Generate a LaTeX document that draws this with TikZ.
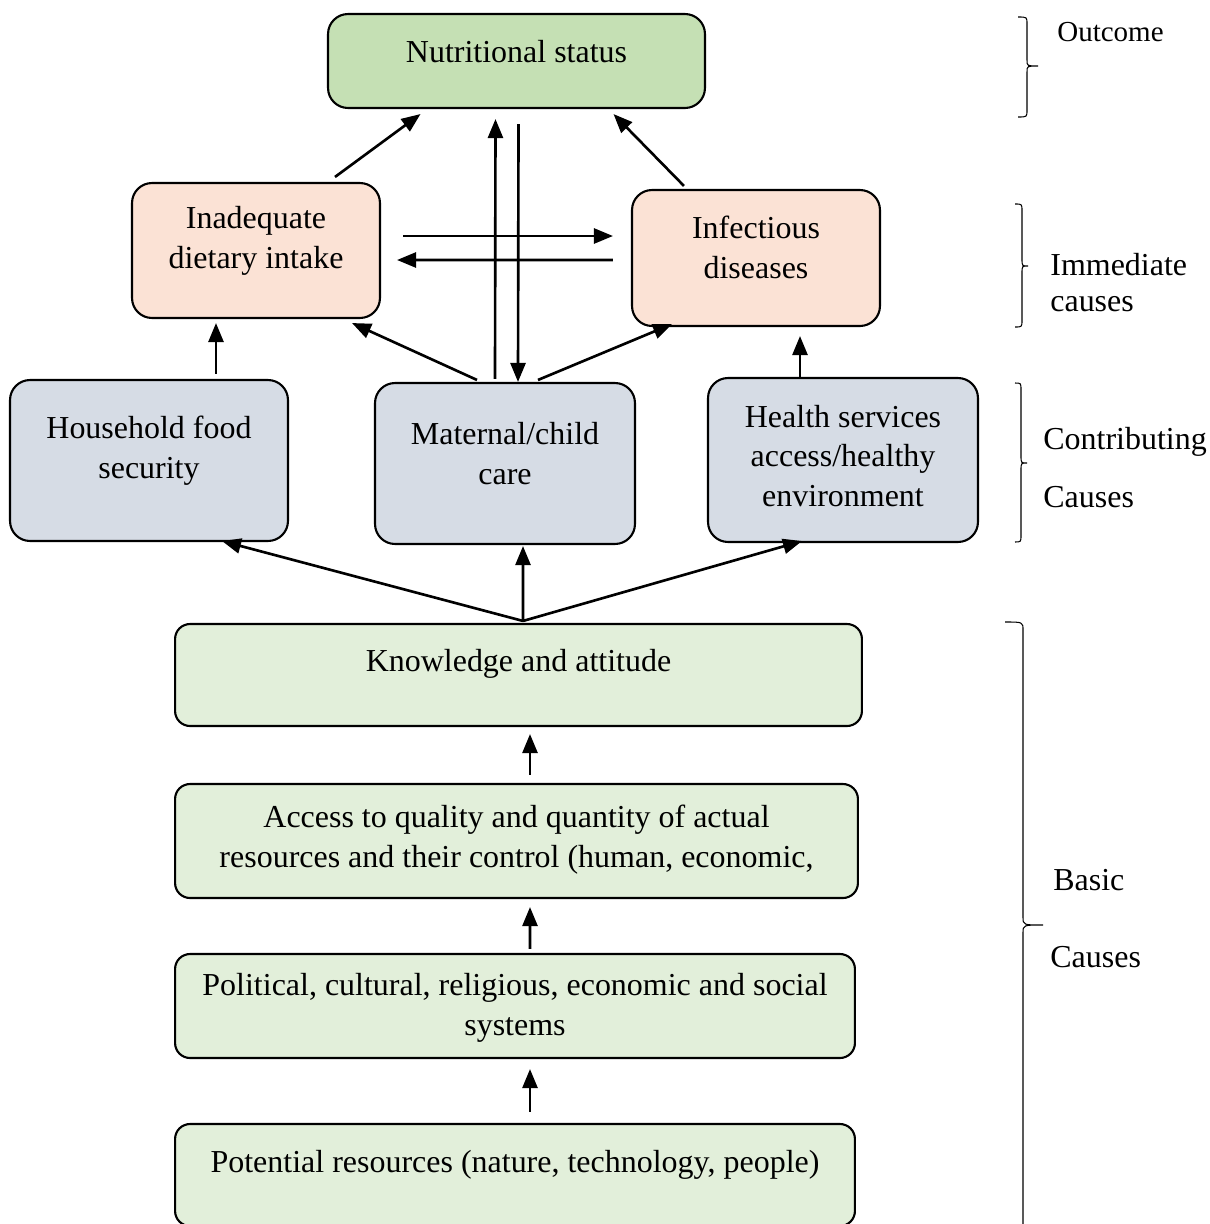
\documentclass[tikz,border=0pt]{standalone}
\usepackage{fontspec}
\setmainfont{Liberation Serif}
\usetikzlibrary{arrows.meta,calc}

\definecolor{nutgreen}{HTML}{C5E0B4}
\definecolor{peach}{HTML}{FBE2D5}
\definecolor{greyblue}{HTML}{D6DCE5}
\definecolor{palegreen}{HTML}{E2EFDA}

\tikzset{
  every node/.style={font=\fontsize{18.2}{22.7}\selectfont},
  box/.style={draw, line width=1.2pt, rounded corners=0.4cm, fill=#1, inner sep=0pt},
  basebox/.style={box=palegreen, rounded corners=0.3cm},
  boxtext/.style={align=center, inner sep=0pt},
  arr/.style={-{Triangle[length=0.38cm,width=0.3cm]}, line width=1.5pt},
  brace/.style={line width=0.6pt},
  side/.style={anchor=west, inner sep=0pt}
}

\begin{document}
\begin{tikzpicture}[x=0.02cm,y=-0.02cm]
\useasboundingbox (0,0) rectangle (1210,1224);

%outcome
\node[box=nutgreen, minimum width=7.54cm, minimum height=1.88cm,
  label={[boxtext,yshift=0.18cm]center:Nutritional status}] (nut) at (516.5,61) {};

%immediate causes
\node[box=peach, minimum width=4.96cm, minimum height=2.70cm,
  label={[boxtext,yshift=0.19cm]center:Inadequate\\dietary intake}] (diet) at (256,250.5) {};
\node[box=peach, minimum width=4.96cm, minimum height=2.72cm,
  label={[boxtext,yshift=0.22cm]center:Infectious\\diseases}] (infect) at (756,258) {};

%contributing causes
\node[box=greyblue, minimum width=5.56cm, minimum height=3.22cm,
  label={[boxtext,yshift=0.2cm]center:Household food\\security}] (food) at (149,460.5) {};
\node[box=greyblue, minimum width=5.2cm, minimum height=3.22cm,
  label={[boxtext,yshift=0.2cm]center:Maternal/child\\care}] (care) at (505,463.5) {};
\node[box=greyblue, minimum width=5.4cm, minimum height=3.28cm,
  label={[boxtext,yshift=0.08cm]center:Health services\\access/healthy\\environment}] (health) at (843,460) {};

%basic causes
\node[basebox, minimum width=13.74cm, minimum height=2.04cm,
  label={[boxtext,yshift=0.22cm]center:Knowledge and attitude}] (know) at (518.5,675) {};
\node[basebox, minimum width=13.66cm, minimum height=2.28cm,
  label={[boxtext,yshift=0.02cm]center:Access to quality and quantity of actual\\resources and their control (human, economic,}] (access) at (516.5,841) {};
\node[basebox, minimum width=13.6cm, minimum height=2.08cm,
  label={[boxtext,yshift=-0.04cm]center:Political, cultural, religious, economic and social\\systems}] (polit) at (515,1006) {};
\node[basebox, minimum width=13.6cm, minimum height=2.04cm,
  label={[boxtext,yshift=0.2cm]center:Potential resources (nature, technology, people)}] (potent) at (515,1175) {};

%arrows to the outcome
\draw[arr] ($(diet.north)+(79,-5)$) -- ($(nut.south)+(-96,5)$);
\draw[arr] ($(care.north)+(-10,-3)$) -- ($(nut.south)+(-21,10)$);
\draw[arr] ($(nut.south)+(2,15)$) -- ($(care.north)+(13,0)$);
\draw[arr] ($(infect.north)+(-72,-3)$) -- ($(nut.south)+(97,5)$);

%between the immediate causes
\draw[arr] ($(diet.east)+(22,-14.5)$) -- ($(infect.west)+(-18,-22)$);
\draw[arr] ($(infect.west)+(-18,2)$) -- ($(diet.east)+(16,9.5)$);

%contributing to immediate
\draw[arr] ($(care.north)+(-28,-2)$) -- ($(diet.south)+(96,4)$);
\draw[arr] ($(care.north)+(33,-2)$) -- ($(infect.south)+(-84,-3)$);
\draw[arr] ($(food.north)+(67,-5)$) -- ($(diet.south)+(-40,4)$);
\draw[arr] ($(health.north)+(-43,0)$) -- ($(infect.south)+(44,9)$);

%basic to contributing
\coordinate (hub) at ($(know.north)+(4.5,-2)$);
\draw[arr] (hub) -- ($(food.south)+(73,-1)$);
\draw[arr] (hub) -- ($(care.south)+(18,1)$);
\draw[arr] (hub) -- ($(health.south)+(-41,-2)$);

%up the basic causes
\draw[arr] ($(access.north)+(13.5,-8)$) -- ($(know.south)+(11.5,7)$);
\draw[arr] ($(polit.north)+(15,-4)$) -- ($(access.south)+(13.5,8)$);
\draw[arr] ($(potent.north)+(15,-11)$) -- ($(polit.south)+(15,10)$);

%braces on the right
\draw[brace] (1018,17) .. controls (1027,17) .. (1027,24) -- (1027,60)
  .. controls (1027,66) .. (1038,66) .. controls (1027,66) .. (1027,72)
  -- (1027,110) .. controls (1027,117) .. (1018,117);
\draw[brace] (1015,204) .. controls (1022,204) .. (1022,211) -- (1022,259)
  .. controls (1022,266) .. (1028,266) .. controls (1022,266) .. (1022,273)
  -- (1022,320) .. controls (1022,327) .. (1015,327);
\draw[brace] (1015,383) .. controls (1021,383) .. (1021,390) -- (1021,456)
  .. controls (1021,463) .. (1027,463) .. controls (1021,463) .. (1021,470)
  -- (1021,535) .. controls (1021,542) .. (1015,542);
\draw[brace] (1005,622) .. controls (1023,622) .. (1023,630) -- (1023,917)
  .. controls (1023,925) .. (1043,925) .. controls (1023,925) .. (1023,933)
  -- (1023,1230);

%side labels
\node[side, font=\fontsize{16.5}{20}\selectfont] (outcome) at (1057,32) {Outcome};
\node[side] (immed1) at (1050,265) {Immediate};
\node[side] (immed2) at (1050,304) {causes};
\node[side] (contrib1) at (1043,442) {Contributing};
\node[side] (contrib2) at (1043,497) {Causes};
\node[side] (basic1) at (1053,880) {Basic};
\node[side] (basic2) at (1050,957) {Causes};

\end{tikzpicture}
\end{document}
